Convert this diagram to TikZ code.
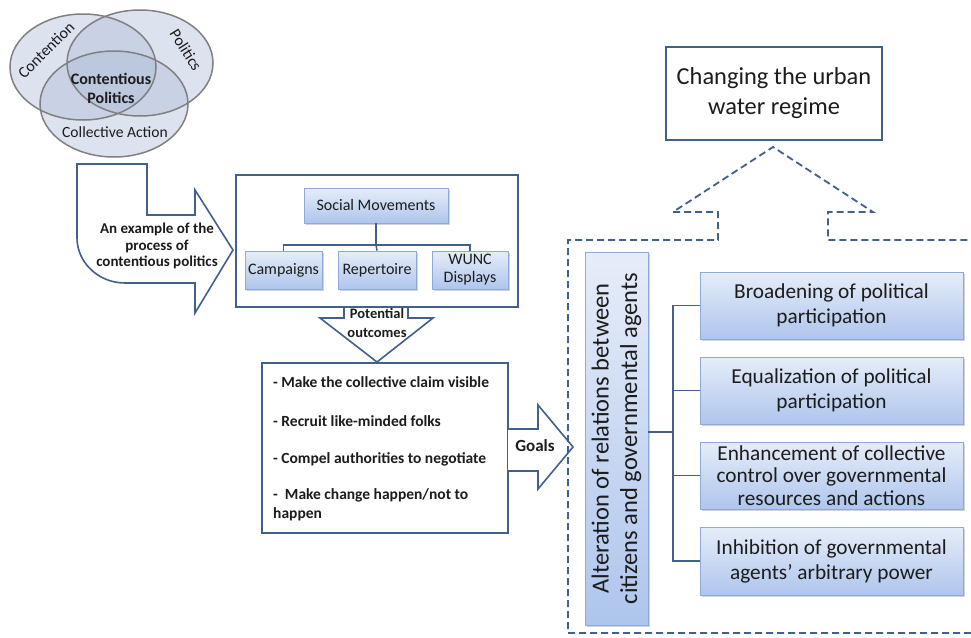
\documentclass[tikz,border=0pt]{standalone}
\usepackage{fontspec}
\setmainfont{Carlito}
\usetikzlibrary{shadows}
\definecolor{edge}{HTML}{41608B}
\definecolor{boxtop}{HTML}{E6EDF9}
\definecolor{boxbot}{HTML}{AEC5EC}
\definecolor{boxedge}{HTML}{8FAAD6}
\definecolor{venn}{HTML}{A6B8D4}
\definecolor{vennedge}{HTML}{808080}
\definecolor{ink}{HTML}{1C1C1C}
\tikzset{
  gbox/.style={draw=boxedge, line width=0.8pt, top color=boxtop, bottom color=boxbot,
    inner sep=0pt, align=center, text=ink,
    drop shadow={shadow xshift=1.6pt, shadow yshift=-1.6pt, opacity=0.35}},
  outl/.style={draw=edge, line width=1.6pt, fill=white, line join=miter},
  dashline/.style={draw=edge, line width=1.8pt, dash pattern=on 7pt off 4pt},
  link/.style={draw=edge, line width=1.5pt},
  vennfill/.style={fill=venn, fill opacity=0.38},
  venndraw/.style={draw=vennedge, line width=1.5pt},
  lbl/.style={text=ink, align=center, inner sep=0pt},
}
\begin{document}
\begin{tikzpicture}[x=1pt,y=-1pt]
\useasboundingbox (0,0) rectangle (971,637);
\fill[white] (0,0) rectangle (971,637);

% ---------- Venn diagram ----------
\fill[vennfill] (83,67) ellipse [x radius=73, y radius=53];
\fill[vennfill] (140,63) ellipse [x radius=73, y radius=53];
\fill[vennfill] (114,104) ellipse [x radius=74, y radius=53];
\draw[venndraw] (83,67) ellipse [x radius=73, y radius=53];
\draw[venndraw] (140,63) ellipse [x radius=73, y radius=53];
\draw[venndraw] (114,104) ellipse [x radius=74, y radius=53];
\node[lbl, rotate=45, font=\fontsize{16}{18}\selectfont] (vcont) at (46,50) {Contention};
\node[lbl, rotate=-58, font=\fontsize{16}{18}\selectfont] (vpol) at (186,50) {Politics};
\node[lbl, font=\bfseries\fontsize{16}{19}\selectfont] (vcp) at (111,88) {Contentious\\Politics};
\node[lbl, font=\fontsize{15.6}{17}\selectfont] (vca) at (115,132) {Collective Action};

% ---------- bent arrow ----------
\path[outl] (77,164) -- (147,164) -- (147,215) -- (195,215) -- (195,190) -- (233,250)
  -- (195,313) -- (195,283) -- (125,283) .. controls (98,283) and (77,262) .. (77,238) -- cycle;
\node[lbl, font=\bfseries\fontsize{15}{16.5}\selectfont] (ex) at (157,246)
  {An example of the\\process of\\contentious politics};

% ---------- potential outcomes arrow ----------
\path[outl] (344,300) -- (344,318) -- (320,318) -- (377,362) -- (433,318) -- (408,318) -- (408,300);
\node[lbl, font=\bfseries\fontsize{14.5}{19}\selectfont] (po) at (377,323) {Potential\\outcomes};

% ---------- social movements box ----------
\node[draw=edge, line width=1.5pt, fill=white, minimum width=282pt, minimum height=132pt, inner sep=0pt] (smframe) at (377,241) {};
\node[gbox, minimum width=144pt, minimum height=35pt, font=\fontsize{16}{18}\selectfont] (sm) at (376,205.5) {Social Movements};
\node[gbox, minimum width=77pt, minimum height=38pt, font=\fontsize{16}{18}\selectfont] (camp) at (283.5,270) {Campaigns};
\node[gbox, minimum width=78pt, minimum height=38pt, font=\fontsize{16}{18}\selectfont] (rep) at (377,270) {Repertoire};
\node[gbox, minimum width=76pt, minimum height=38pt, font=\fontsize{16}{18}\selectfont] (wunc) at (470,270) {WUNC\\Displays};
\coordinate (bar) at (376,245);
\draw[link] (sm.south) -- (bar);
\draw[link] (camp.north) |- (bar) -| (wunc.north);
\draw[link] (bar) -- (rep.north);

% ---------- list box ----------
\node[draw=edge, line width=1.5pt, fill=white, minimum width=246pt, minimum height=170pt, inner sep=0pt] (list) at (385,448) {};
\node[lbl, anchor=west, align=left, font=\bfseries\fontsize{15.5}{19}\selectfont] (l1) at (273,382) {- Make the collective claim visible};
\node[lbl, anchor=west, align=left, font=\bfseries\fontsize{15.5}{19}\selectfont] (l2) at (273,421) {- Recruit like-minded folks};
\node[lbl, anchor=west, align=left, font=\bfseries\fontsize{15.5}{19}\selectfont] (l3) at (273,459) {- Compel authorities to negotiate};
\node[lbl, anchor=north west, align=left, font=\bfseries\fontsize{15.5}{19.5}\selectfont] (l4) at (273,488) {-\ \ Make change happen/not to\\happen};

% ---------- goals arrow ----------
\path[outl] (508,429) -- (538,429) -- (538,405) -- (573,447) -- (538,489) -- (538,471) -- (508,471);
\node[lbl, font=\bfseries\fontsize{17}{18}\selectfont] (goals) at (535,446) {Goals};

% ---------- dashed up arrow / frame ----------
\coordinate (fbl) at (568,633);
\coordinate (fbr) at (971,633);
\coordinate (ftr) at (971,240);
\coordinate (tip) at (773,147);
\draw[dashline] (fbr) -- (fbl) -- (568,240) -- (718,240) -- (718,212) -- (673,212) -- (tip)
  -- (873,212) -- (828,212) -- (828,240) -- (ftr);

% ---------- goal box ----------
\node[draw=edge, line width=1.5pt, fill=white, minimum width=216pt, minimum height=93pt, inner sep=0pt,
  align=center, text=ink, font=\fontsize{24.4}{30}\selectfont] (water) at (774,93.5) {Changing the urban\\water regime};

% ---------- alteration box ----------
\node[gbox, minimum width=373pt, minimum height=63pt, rotate=90,
  font=\fontsize{24.5}{28.5}\selectfont] (alt) at (616.5,438.5) {Alteration of relations between\\citizens and governmental agents};

\node[gbox, minimum width=263pt, minimum height=67pt, font=\fontsize{21.3}{25}\selectfont] (b1) at (831.5,305.5) {Broadening of political\\participation};
\node[gbox, minimum width=263pt, minimum height=67pt, font=\fontsize{21.3}{25}\selectfont] (b2) at (831.5,390.5) {Equalization of political\\participation};
\node[gbox, minimum width=263pt, minimum height=67pt, font=\fontsize{21.3}{22.5}\selectfont] (b3) at (831.5,475.5) {Enhancement of collective\\control over governmental\\resources and actions};
\node[gbox, minimum width=263pt, minimum height=68pt, font=\fontsize{21.3}{25}\selectfont] (b4) at (831.5,561) {Inhibition of governmental\\agents’ arbitrary power};

\coordinate (trunk) at (673,432);
\draw[link] (alt.south |- trunk) -- (trunk);
\draw[link] (b1.west) -| (trunk) |- (b4.west);
\draw[link] (b2.west) -- (b2.west -| trunk);
\draw[link] (b3.west) -- (b3.west -| trunk);
\end{tikzpicture}
\end{document}
